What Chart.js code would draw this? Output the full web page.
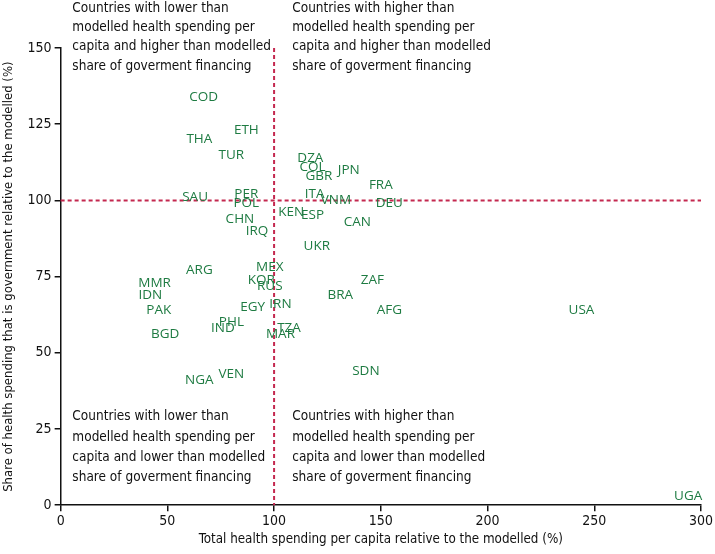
<!DOCTYPE html>
<html>
<head>
<meta charset="utf-8">
<script src="https://cdn.jsdelivr.net/npm/chart.js@4/dist/chart.umd.min.js"></script>
<style>
  html, body { margin: 0; padding: 0; background: #fff; }
  #wrap { width: 715px; height: 554px; }
</style>
</head>
<body>
<div id="wrap"><canvas id="scatterChart"></canvas></div>
<script>
// country codes and their values
const countries = ['COD', 'THA', 'ETH', 'TUR', 'DZA', 'COL', 'GBR', 'JPN', 'FRA', 'DEU',
    'ITA', 'VNM', 'KEN', 'ESP', 'CAN', 'UKR', 'SAU', 'PER', 'POL', 'CHN', 'IRQ',
    'ARG', 'MMR', 'IDN', 'PAK', 'BGD', 'MEX', 'KOR', 'RUS', 'EGY', 'IRN', 'PHL',
    'IND', 'TZA', 'MAR', 'BRA', 'ZAF', 'AFG', 'USA', 'SDN', 'NGA', 'VEN', 'UGA'];
const spendingRel = [67, 65, 87, 80, 117, 118, 121, 135, 150, 154,
    119, 129, 108, 118, 139, 120, 63, 87, 87, 84, 92,
    65, 44, 42, 46, 49, 98, 94, 98, 90, 103, 80,
    76, 107, 103, 131, 146, 154, 244, 143, 65, 80, 294];
const govShareRel = [134, 120, 123, 115, 114, 111, 108, 110, 105, 99,
    102, 100, 96, 95, 93, 85, 101, 102, 99, 94, 90,
    77, 73, 69, 64, 56, 78, 74, 72, 65, 66, 60,
    58, 58, 56, 69, 74, 64, 64, 44, 41, 43, 3];

const xTicks = [0, 50, 100, 150, 200, 250, 300];
const yTicks = [0, 25, 50, 75, 100, 125, 150];

const quadrantText = {
    topLeft: ['Countries with lower than', 'modelled health spending per', 'capita and higher than modelled', 'share of goverment financing'],
    topRight: ['Countries with higher than', 'modelled health spending per', 'capita and higher than modelled', 'share of goverment financing'],
    bottomLeft: ['Countries with lower than', 'modelled health spending per', 'capita and lower than modelled', 'share of goverment financing'],
    bottomRight: ['Countries with higher than', 'modelled health spending per', 'capita and lower than modelled', 'share of goverment financing']
};

const labelGreen = '#1e7b42';
const refRed = '#c4284f';
const narrowFont = "'Liberation Sans Narrow', 'DejaVu Sans Condensed', sans-serif";

const points = countries.map((c, i) => ({ x: spendingRel[i], y: govShareRel[i], code: c }));

// draws the reference lines, quadrant notes and country codes
const labelPlugin = {
    id: 'countryLabels',
    afterDatasetsDraw(chart) {
        const ctx = chart.ctx;
        const xs = chart.scales.x;
        const ys = chart.scales.y;
        const area = chart.chartArea;

        ctx.save();
        ctx.strokeStyle = refRed;
        ctx.lineWidth = 2;
        ctx.setLineDash([4, 3]);
        ctx.beginPath();
        ctx.moveTo(xs.getPixelForValue(100), ys.getPixelForValue(150));
        ctx.lineTo(xs.getPixelForValue(100), ys.getPixelForValue(0));
        ctx.moveTo(xs.getPixelForValue(0), ys.getPixelForValue(100));
        ctx.lineTo(xs.getPixelForValue(300), ys.getPixelForValue(100));
        ctx.stroke();
        ctx.setLineDash([]);

        ctx.fillStyle = '#111';
        ctx.font = '13.5px ' + narrowFont;
        ctx.textAlign = 'left';
        ctx.textBaseline = 'middle';
        const topY = area.top - 40;
        quadrantText.topLeft.forEach((t, i) => ctx.fillText(t, xs.getPixelForValue(5.5), topY + i * 19.4));
        quadrantText.topRight.forEach((t, i) => ctx.fillText(t, xs.getPixelForValue(108.5), topY + i * 19.4));
        const botY = ys.getPixelForValue(29);
        quadrantText.bottomLeft.forEach((t, i) => ctx.fillText(t, xs.getPixelForValue(5.5), botY + i * 20.3));
        quadrantText.bottomRight.forEach((t, i) => ctx.fillText(t, xs.getPixelForValue(108.5), botY + i * 20.3));

        const meta = chart.getDatasetMeta(0);
        ctx.fillStyle = labelGreen;
        ctx.font = "13.5px 'Open Sans', sans-serif";
        ctx.textAlign = 'center';
        meta.data.forEach((el, i) => {
            ctx.fillText(points[i].code, el.x, el.y);
        });
        ctx.restore();
    }
};

const ctx = document.getElementById('scatterChart').getContext('2d');
new Chart(ctx, {
    type: 'scatter',
    data: {
        datasets: [{
            label: 'Countries',
            data: points,
            pointRadius: 0,
            pointHoverRadius: 0
        }]
    },
    options: {
        responsive: true,
        maintainAspectRatio: false,
        animation: false,
        layout: { padding: { top: 48, right: 5, left: 1, bottom: 2 } },
        plugins: {
            legend: { display: false },
            tooltip: { enabled: false }
        },
        scales: {
            x: {
                type: 'linear',
                min: 0,
                max: 300,
                afterBuildTicks: axis => { axis.ticks = xTicks.map(v => ({ value: v })); },
                grid: { display: true, drawOnChartArea: false, drawTicks: true, tickLength: 6, color: '#111', lineWidth: 1.5 },
                border: { display: true, color: '#111', width: 1.5 },
                ticks: { color: '#111', font: { size: 14, family: narrowFont }, padding: 2 },
                title: {
                    display: true,
                    text: 'Total health spending per capita relative to the modelled (%)',
                    color: '#111',
                    font: { size: 13.3, family: narrowFont },
                    padding: { top: 0, bottom: 4 }
                }
            },
            y: {
                type: 'linear',
                min: 0,
                max: 150,
                afterBuildTicks: axis => { axis.ticks = yTicks.map(v => ({ value: v })); },
                grid: { display: true, drawOnChartArea: false, drawTicks: true, tickLength: 6, color: '#111', lineWidth: 1.5 },
                border: { display: true, color: '#111', width: 1.5 },
                ticks: { color: '#111', font: { size: 14, family: narrowFont }, padding: 3 },
                title: {
                    display: true,
                    text: 'Share of health spending that is government relative to the modelled (%)',
                    color: '#111',
                    font: { size: 13, family: narrowFont },
                    padding: { top: 0, bottom: 8 }
                }
            }
        }
    },
    plugins: [labelPlugin]
});
</script>
</body>
</html>
